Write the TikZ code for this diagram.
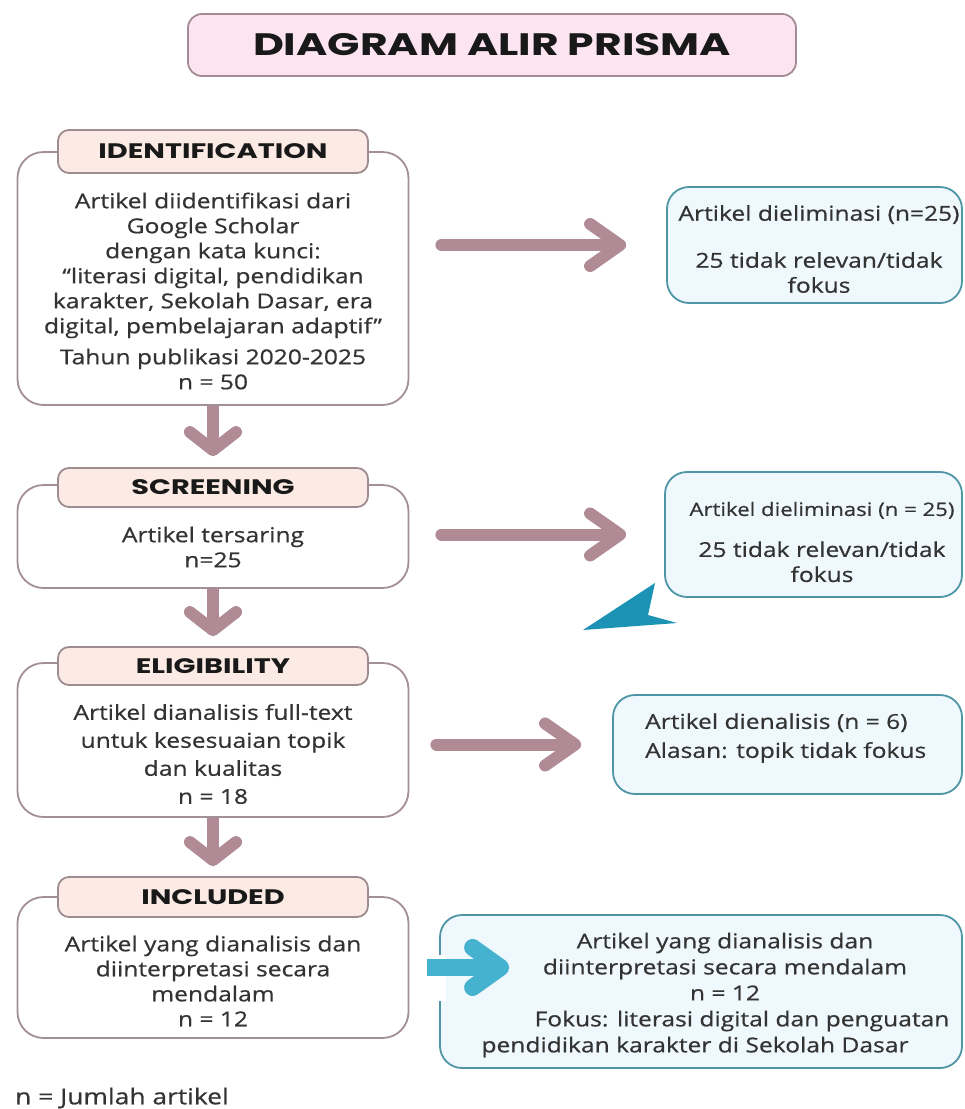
\documentclass[tikz,border=0pt]{standalone}
\usepackage{fontspec}
\setmainfont{Open Sans}[FakeStretch=1.2, RawFeature={embolden=0.6}]
\newfontfamily\headfont{Poppins}[FakeStretch=1.37]
\usetikzlibrary{arrows.meta}

\definecolor{boxline}{HTML}{A38F96}
\definecolor{tabline}{HTML}{9E8C91}
\definecolor{tabfill}{HTML}{FBEBE4}
\definecolor{titlefill}{HTML}{FCE4F1}
\definecolor{titleline}{HTML}{A48C97}
\definecolor{flowcol}{HTML}{B08A94}
\definecolor{sideline}{HTML}{4F95A5}
\definecolor{sidefill}{HTML}{EFF8FC}
\definecolor{tealcol}{HTML}{45B3CF}
\definecolor{tealdark}{HTML}{1C93B5}
\definecolor{textgray}{HTML}{333333}

\begin{document}
\begin{tikzpicture}[x=1pt,y=-1pt]
		\tikzset{
			titlebox/.style={draw=titleline, line width=1.8pt, fill=titlefill, rounded corners=14pt,
				minimum width=608pt, minimum height=62pt, text=black!90,
				font=\headfont\bfseries\fontsize{31}{31}\selectfont},
			mainbox/.style={draw=boxline, line width=1.8pt, fill=white, rounded corners=26pt, minimum width=391pt},
			tabbox/.style={draw=tabline, line width=1.8pt, fill=tabfill, rounded corners=11pt, minimum width=310pt,
				text=black!90, font=\headfont\bfseries\fontsize{21}{21}\selectfont},
			sidebox/.style={draw=sideline, line width=1.8pt, fill=sidefill, rounded corners=22pt},
			bodytext/.style={align=center, inner sep=0pt, text=textgray, font=\fontsize{20.5}{25}\selectfont},
			flow/.style={draw=flowcol, line width=12pt, line cap=round, -{Straight Barb[length=30pt,width=42pt,round]}},
			downflow/.style={draw=flowcol, line width=12pt, -{Straight Barb[length=18pt,width=46pt,round]}},
			tealflow/.style={draw=tealcol, line width=17pt, -{Straight Barb[length=28pt,width=40pt,round]}}
		}
		\fill[white] (0,0) rectangle (965,1109);

		\node[titlebox] (title) at (492,45) {DIAGRAM ALIR PRISMA};

		% left column
		\node[mainbox, minimum height=253pt] (idbox) at (213,278.5) {};
		\node[tabbox, minimum height=43pt] (idtab) at (213,151.5) {IDENTIFICATION};
		\node[bodytext] (idtext) at (213,291) {Artikel diidentifikasi dari\\Google Scholar\\dengan kata kunci:\\“literasi digital, pendidikan\\karakter, Sekolah Dasar, era\\digital, pembelajaran adaptif”\\[6pt]Tahun publikasi 2020-2025\\n = 50};

		\node[mainbox, minimum height=103pt] (scbox) at (213,536.5) {};
		\node[tabbox, minimum height=39pt] (sctab) at (213,487.5) {SCREENING};
		\node[bodytext] (sctext) at (213,547) {Artikel tersaring\\n=25};

		\node[mainbox, minimum height=154pt] (elbox) at (213,740) {};
		\node[tabbox, minimum height=38pt] (eltab) at (213,666) {ELIGIBILITY};
		\node[bodytext, font=\fontsize{20.5}{28}\selectfont] (eltext) at (213,754) {Artikel dianalisis full-text\\untuk kesesuaian topik\\dan kualitas\\n = 18};

		\node[mainbox, minimum height=141pt] (inbox) at (213,967.5) {};
		\node[tabbox, minimum height=40pt] (intab) at (213,897) {INCLUDED};
		\node[bodytext] (intext) at (213,981) {Artikel yang dianalisis dan\\diinterpretasi secara\\mendalam\\n = 12};

		% right column
		\node[sidebox, minimum width=295pt, minimum height=116pt] (elima) at (814.5,245) {};
		\node[bodytext] (elimatext) at (819,249) {Artikel dieliminasi (n=25)\\[22pt]25 tidak relevan/tidak\\fokus};

		\node[sidebox, minimum width=297pt, minimum height=125pt] (elimb) at (813.5,534.5) {};
		\node[bodytext] (elimbtext) at (822,542) {{\fontsize{18.5}{25}\selectfont Artikel dieliminasi (n = 25)}\\[16pt]25 tidak relevan/tidak\\fokus};

		\node[sidebox, minimum width=349pt, minimum height=99pt] (elimc) at (787.5,744.5) {};
		\node[bodytext, align=left, anchor=west, font=\fontsize{20.5}{29}\selectfont] (elimctext) at (645,738) {Artikel dienalisis (n = 6)\\Alasan: topik tidak fokus};

		\node[sidebox, minimum width=522pt, minimum height=153pt] (final) at (701,991.5) {};
		\node[bodytext, font=\fontsize{20.5}{26}\selectfont] (finaltext) at (725,995) {Artikel yang dianalisis dan\\diinterpretasi secara mendalam\\n = 12\\\hspace*{34pt}Fokus: literasi digital dan penguatan\\\hspace*{-60pt}pendidikan karakter di Sekolah Dasar};

		\node[anchor=west, inner sep=0pt, text=textgray, font=\fontsize{22}{22}\selectfont] (note) at (15,1098) {n = Jumlah artikel};

		% arrows
		\draw[downflow, shorten >=11pt] (idbox.south) -- (sctab.north);
		\draw[downflow, shorten >=10pt] (scbox.south) -- (eltab.north);
		\draw[downflow, shorten >=10pt] (elbox.south) -- (intab.north);

		\draw[flow, shorten <=32pt, shorten >=40pt] (idbox.east |- elima.west) -- (elima.west);
		\draw[flow, shorten <=32pt, shorten >=38pt] (scbox.east |- elimb.west) -- (elimb.west);
		\draw[flow, shorten <=27pt, shorten >=31pt] (elbox.east |- elimc.west) -- (elimc.west);

		\fill[white] (436,955) rectangle (446,1001);
		\draw[tealflow, shorten <=18pt, shorten >=-70pt] (inbox.east) -- (inbox.east -| final.west);

		\fill[tealdark] (583,630) -- (655,583) -- (648,615) -- (677,623) -- cycle;
\end{tikzpicture}
\end{document}
